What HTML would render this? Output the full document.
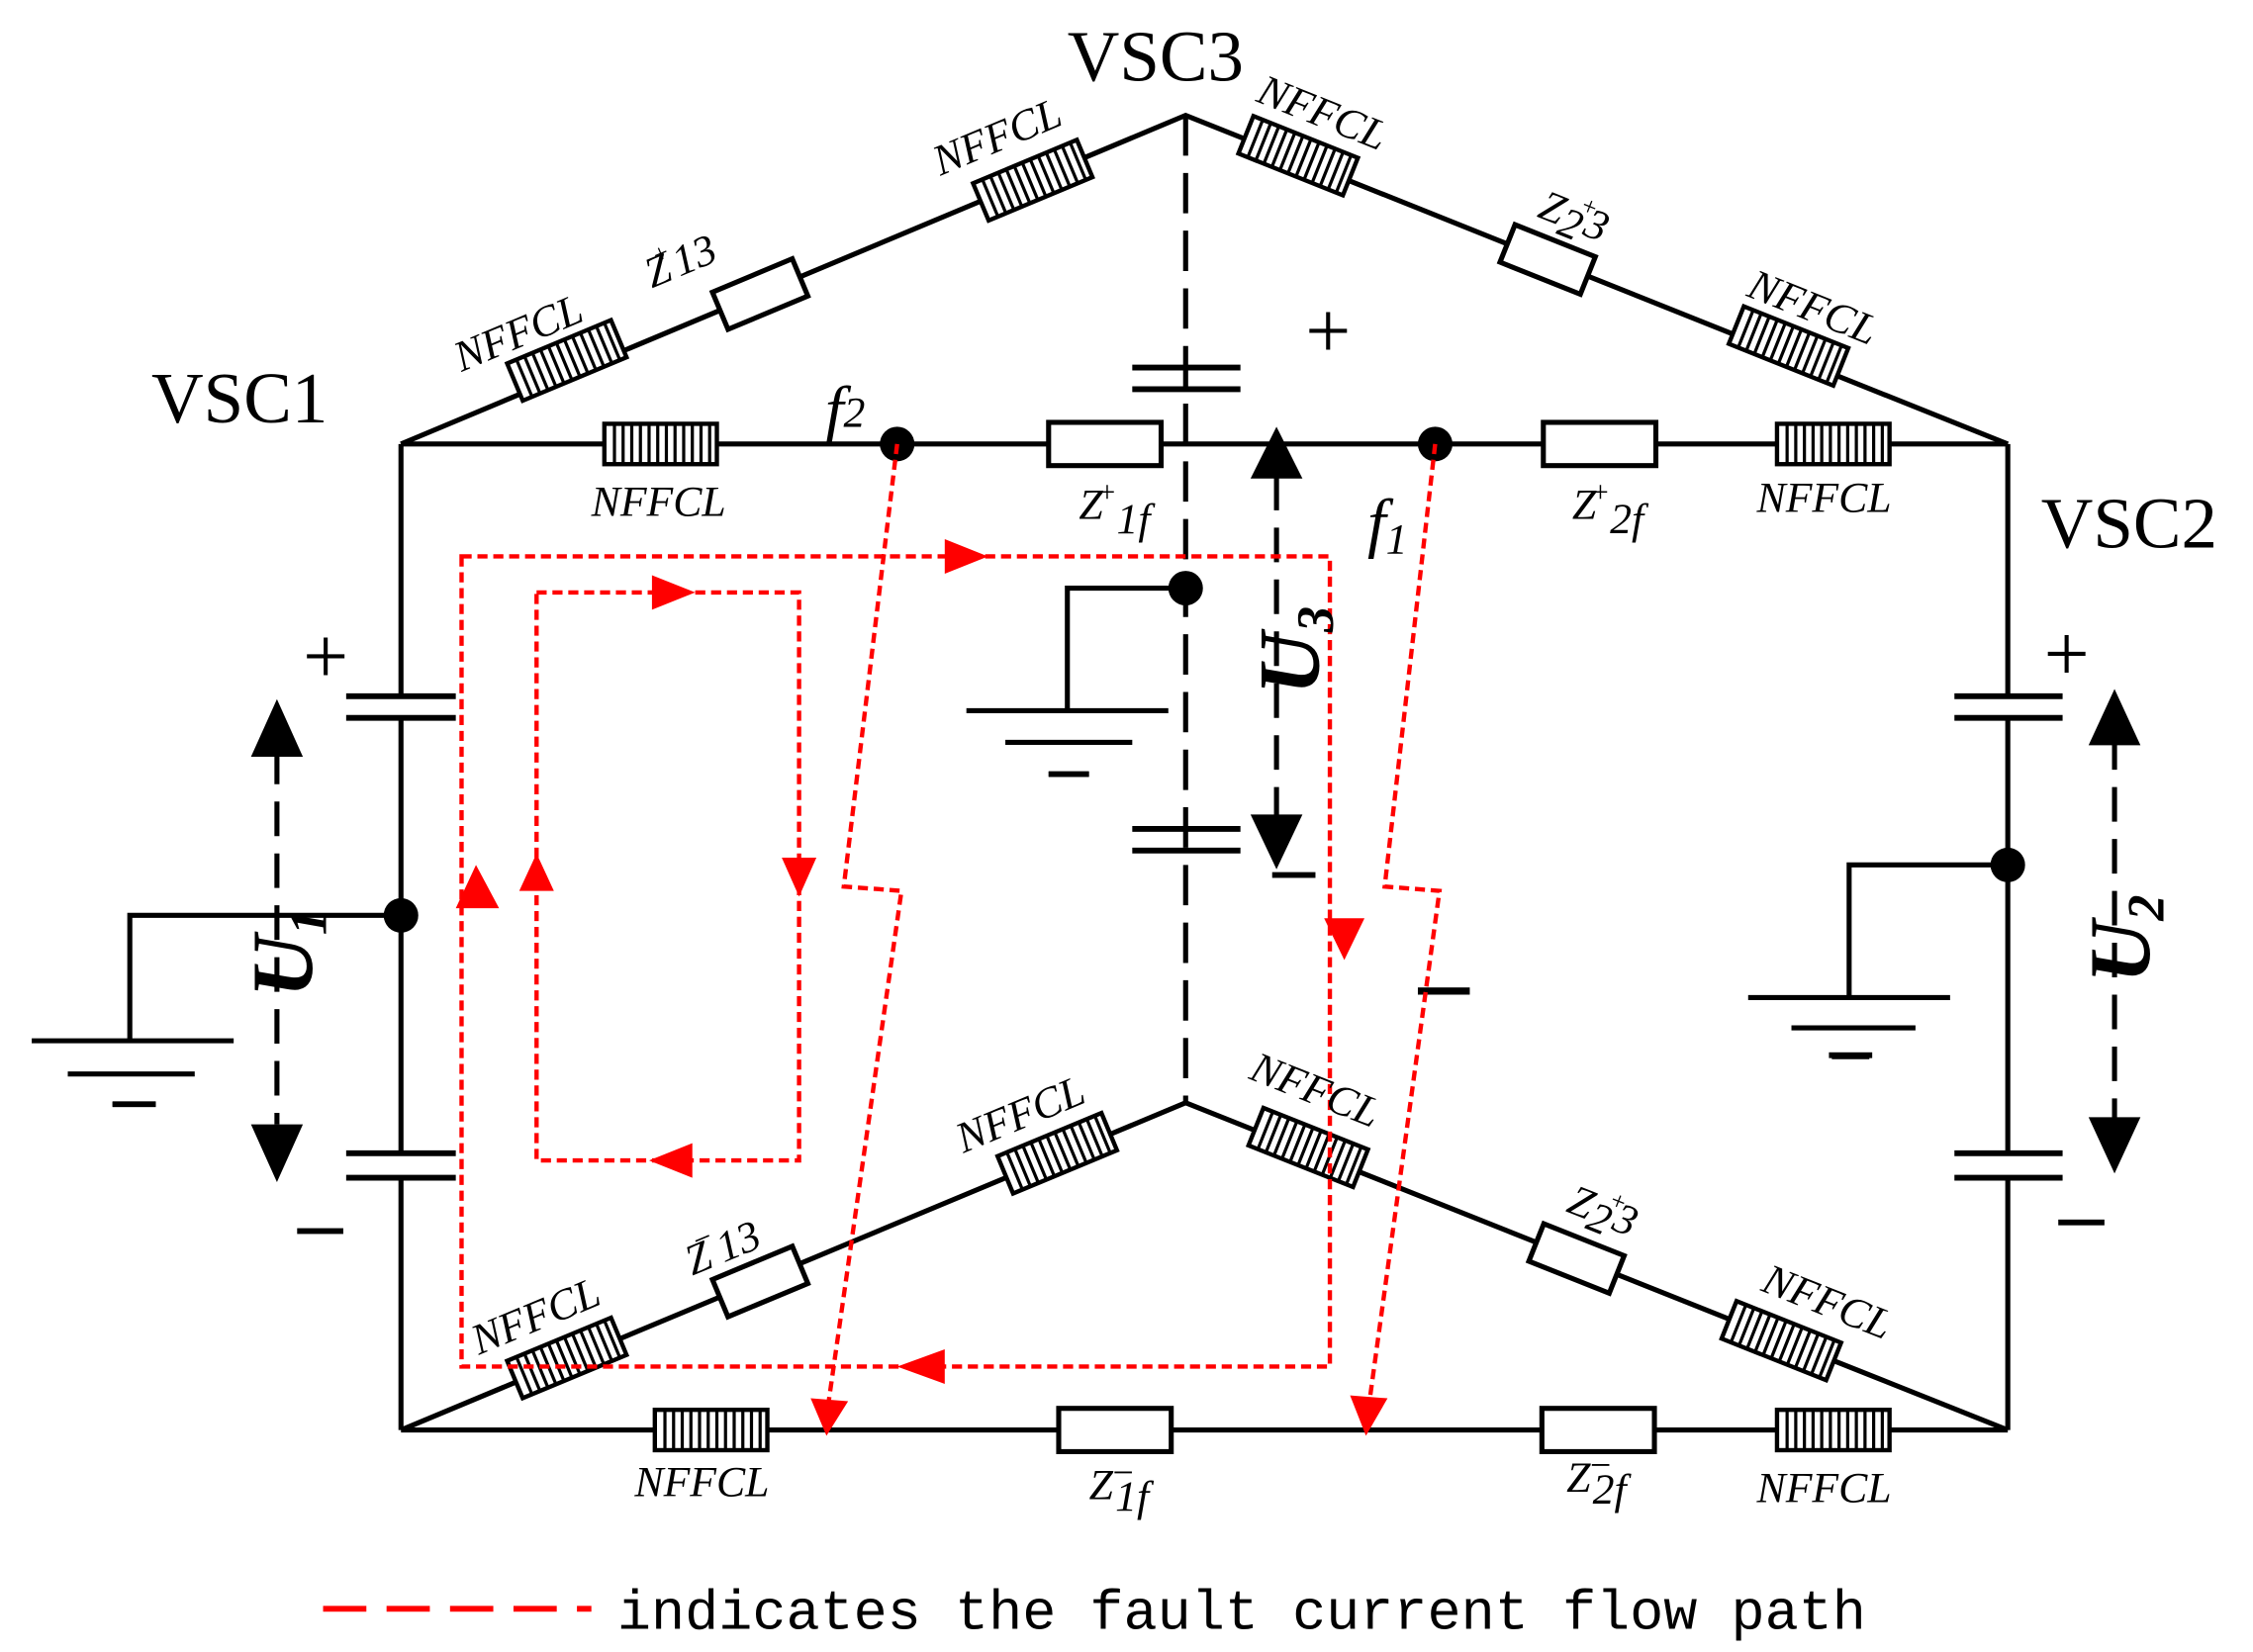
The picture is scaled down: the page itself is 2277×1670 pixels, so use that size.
<!DOCTYPE html>
<html><head><meta charset="utf-8"><style>
html,body{margin:0;padding:0;background:#fff;}
svg{display:block;}
text{font-family:"Liberation Serif",serif;}
.it{font-style:italic;}
</style></head><body>
<svg width="2277" height="1670" viewBox="0 0 1562 1146" preserveAspectRatio="none" xmlns="http://www.w3.org/2000/svg">
<defs>
<g id="nf">
<rect x="-39" y="-14" width="78" height="28" fill="#fff" stroke="#000" stroke-width="3"/>
<path d="M-32 -14V14M-26 -14V14M-20 -14V14M-14 -14V14M-8 -14V14M-2 -14V14M4 -14V14M10 -14V14M16 -14V14M22 -14V14M28 -14V14M34 -14V14" stroke="#000" stroke-width="2.2"/>
</g>
<g id="zb"><rect x="-39" y="-15" width="78" height="30" fill="#fff" stroke="#000" stroke-width="3.5"/></g>
<g id="zs"><rect x="-30" y="-14" width="60" height="28" fill="#fff" stroke="#000" stroke-width="3.5"/></g>
</defs>
<rect width="1562" height="1146" fill="#fff"/>
<g stroke="#000" stroke-width="3.5" fill="none">
<path d="M278 308L822 80L1392 308"/>
<path d="M278 308H1392"/>
<path d="M278 308V483M278 498V800M278 817V992"/>
<path d="M1392 308V483M1392 498V800M1392 817V992"/>
<path d="M278 992H1392"/>
<path d="M278 992L822 765L1392 992"/>
<path d="M240 483H316M240 498H316M240 800H316M240 817H316" stroke-width="4"/>
<path d="M1355 483H1430M1355 498H1430M1355 800H1430M1355 817H1430" stroke-width="4"/>
<path d="M785 255H860M785 270H860M785 575H860M785 590H860" stroke-width="4"/>
<path d="M822 80V765" stroke-dasharray="28 12"/>
<path d="M822 408H740V493M670 493H810M697 515H785M727 537H755"/>
<path d="M278 635H90V722M22 722H162M47 745H135M78 766H108"/>
<path d="M1392 600H1282V692M1212 692H1352M1242 713H1328M1270 733H1296"/>
<path d="M192 520V780M885 330V570M1466 510V780" stroke-dasharray="24 12"/>
</g>
<g fill="#000">
<circle cx="622" cy="308" r="12"/><circle cx="995" cy="308" r="12"/>
<circle cx="822" cy="408" r="12"/><circle cx="278" cy="635" r="12"/><circle cx="1392" cy="600" r="12"/>
<path d="M174 525L192 485L210 525z"/><path d="M174 780L192 820L210 780z"/>
<path d="M867 332L885 296L903 332z"/><path d="M867 565L885 603L903 565z"/>
<path d="M1448 517L1466 478L1484 517z"/><path d="M1448 775L1466 814L1484 775z"/>
<rect x="206" y="852" width="32" height="4"/><rect x="1427" y="846" width="32" height="4"/>
<rect x="882" y="605" width="30" height="4"/><rect x="983" y="685" width="36" height="5"/>
</g>
<use href="#nf" x="458" y="308"/><use href="#zb" x="766" y="308"/><use href="#zb" x="1109" y="308"/><use href="#nf" x="1271" y="308"/>
<use href="#nf" x="493" y="992"/><use href="#zb" x="773" y="992"/><use href="#zb" x="1108" y="992"/><use href="#nf" x="1271" y="992"/>
<use href="#nf" transform="translate(393,250) rotate(-22.7)"/>
<use href="#zs" transform="translate(527,204) rotate(-22.7)"/>
<use href="#nf" transform="translate(716,125) rotate(-22.7)"/>
<use href="#nf" transform="translate(900,108) rotate(21.8)"/>
<use href="#zs" transform="translate(1073,180) rotate(21.8)"/>
<use href="#nf" transform="translate(1240,240) rotate(21.8)"/>
<use href="#nf" transform="translate(393,942) rotate(-22.6)"/>
<use href="#zs" transform="translate(527,889) rotate(-22.6)"/>
<use href="#nf" transform="translate(733,800) rotate(-22.6)"/>
<use href="#nf" transform="translate(907,796) rotate(21.7)"/>
<use href="#zs" transform="translate(1093,873) rotate(21.7)"/>
<use href="#nf" transform="translate(1235,930) rotate(21.7)"/>
<g fill="none" stroke="#f00" stroke-width="3" stroke-dasharray="7 4">
<path d="M320 386H922V948H320Z"/>
<path d="M372 411H554V805H372Z"/>
<path d="M622 308L585 615L625 618L572 990"/>
<path d="M995 308L960 615L998 618L947 990"/>
</g>
<g fill="#f00">
<path d="M655 374L685 386L655 398z"/><path d="M452 399L482 411L452 423z"/>
<path d="M542 595L554 622L566 595z"/><path d="M480 793L450 805L480 817z"/>
<path d="M360 618L372 592L384 618z"/><path d="M316 630L330 600L346 630z"/>
<path d="M918 637L932 666L946 637z"/><path d="M655 936L622 948L655 960z"/>
<path d="M562 970L573 996L588 972z"/><path d="M936 968L947 996L962 970z"/>
</g>
<path d="M224 1116H410" stroke="#f00" stroke-width="4" stroke-dasharray="30 14"/>
<g fill="#000" font-size="50">
<text x="740" y="56">VSC3</text>
<text x="105" y="293">VSC1</text>
<text x="1415" y="380">VSC2</text>
</g>
<g font-size="56" fill="#000">
<text x="905" y="248">+</text><text x="210" y="474">+</text><text x="1417" y="472">+</text>
</g>
<g fill="#000"><rect x="727" y="535" width="28" height="4"/><rect x="78" y="764" width="30" height="4"/><rect x="1268" y="730" width="30" height="4"/></g>
<g class="it" font-size="30" fill="#000">
<text x="410" y="358">NFFCL</text><text x="1218" y="355">NFFCL</text>
<text x="440" y="1038">NFFCL</text><text x="1218" y="1042">NFFCL</text>
<text transform="translate(320,258) rotate(-22.7)">NFFCL</text>
<text transform="translate(652,122) rotate(-22.7)">NFFCL</text>
<text transform="translate(452,200) rotate(-22.7)">Z<tspan font-size="18" dx="-8" dy="-14">+</tspan><tspan dy="14">13</tspan></text>
<text transform="translate(870,70) rotate(21.8)">NFFCL</text>
<text transform="translate(1065,150) rotate(21.8)">Z<tspan dy="6">2</tspan><tspan font-size="18" dx="-6" dy="-20">+</tspan><tspan dx="-4" dy="14">3</tspan></text>
<text transform="translate(1210,205) rotate(21.8)">NFFCL</text>
<text transform="translate(332,940) rotate(-22.6)">NFFCL</text>
<text transform="translate(480,885) rotate(-22.6)">Z<tspan font-size="22" dx="-8" dy="-14">−</tspan><tspan dy="14">13</tspan></text>
<text transform="translate(668,800) rotate(-22.6)">NFFCL</text>
<text transform="translate(865,748) rotate(21.7)">NFFCL</text>
<text transform="translate(1085,840) rotate(21.7)">Z<tspan dy="6">2</tspan><tspan font-size="18" dx="-6" dy="-20">+</tspan><tspan dx="-4" dy="14">3</tspan></text>
<text transform="translate(1220,895) rotate(21.7)">NFFCL</text>
<text x="748" y="360">Z<tspan font-size="20" dx="-4" dy="-12">+</tspan><tspan dy="22">1f</tspan></text>
<text x="1090" y="360">Z<tspan font-size="20" dx="-4" dy="-12">+</tspan><tspan dy="22">2f</tspan></text>
<text x="755" y="1040">Z<tspan font-size="26" dx="-2" dy="-10">−</tspan><tspan dx="-14" dy="18">1f</tspan></text>
<text x="1086" y="1035">Z<tspan font-size="26" dx="-2" dy="-10">−</tspan><tspan dx="-14" dy="18">2f</tspan></text>
<text x="572" y="300" font-size="46">f<tspan font-size="30" dy="-4">2</tspan></text>
<text x="948" y="378" font-size="46">f<tspan font-size="30" dy="6">1</tspan></text>
</g>
<g class="it" font-weight="bold" font-size="60" fill="#000">
<text transform="translate(216,692) rotate(-90)">U<tspan font-size="36" dy="10">1</tspan></text>
<text transform="translate(914,482) rotate(-90)">U<tspan font-size="36" dy="10">3</tspan></text>
<text transform="translate(1490,682) rotate(-90)">U<tspan font-size="36" dy="10">2</tspan></text>
</g>
<text x="428" y="1130" style="font-family:'Liberation Mono',monospace" font-size="39" fill="#000">indicates the fault current flow path</text>
</svg>
</body></html>
